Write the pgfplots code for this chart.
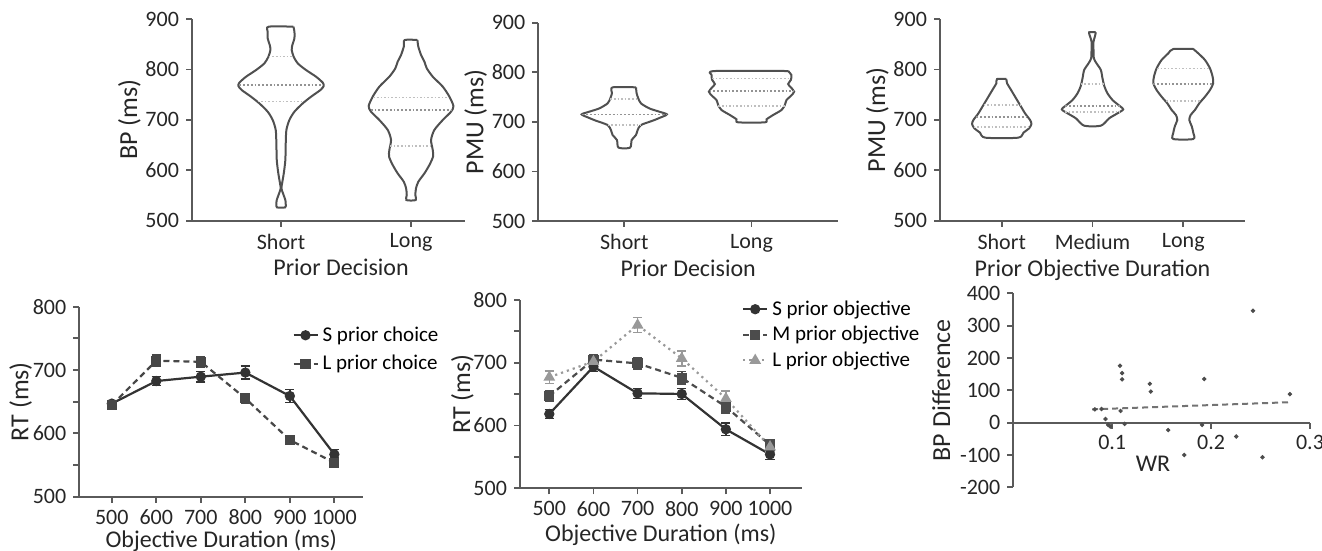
\documentclass[border=0pt]{standalone}
\usepackage{fontspec}
\setmainfont{Carlito}
\usepackage{pgfplots}
\pgfplotsset{compat=1.18}
\definecolor{axc}{HTML}{5A5A5A}
\definecolor{vio}{HTML}{505050}
\pgfplotsset{
 base/.style={scale only axis, axis lines*=left, axis line style={axc, line width=1.1pt},
   tick style={axc, line width=0.9pt}, major tick length=3pt, minor tick length=3pt, tick align=outside,
   tick label style={font=\fontsize{11}{13}\selectfont, text=black!85},
   xlabel style={font=\fontsize{12}{14}\selectfont, text=black!85, yshift=3pt},
   ylabel style={font=\fontsize{13}{15}\selectfont, text=black!85}, ylabel shift=-4.5pt,
   /pgf/number format/assume math mode=true, clip=false},
 violin/.style={draw=vio, line width=1pt, fill=white, smooth, tension=0.45, no marks},
 q/.style={gray!50, densely dotted, line width=0.8pt, no marks},
 qm/.style={gray!85, densely dotted, line width=0.9pt, no marks},
 leg/.style={legend style={draw=none, fill=none, font=\fontsize{10.5}{12}\selectfont, inner sep=0pt, anchor=north west},
   legend cell align=left,
   legend image code/.code={\draw[mark repeat=2, mark phase=2, ##1] plot coordinates {(0pt,0pt) (6pt,0pt) (12pt,0pt)};}},
 eb/.style={error bars/.cd, y dir=both, y explicit, error bar style={line width=0.8pt, solid}, error mark options={rotate=90, mark size=2.3pt, line width=0.8pt, solid}},
}
\begin{document}
\begin{tikzpicture}
\path[use as bounding box] (0pt,0pt) rectangle (661pt,275.5pt);

% ---------- Panel 1 ----------
\begin{axis}[base, at={(96pt,165.15pt)}, anchor=south west, width=136.5pt, height=100.85pt,
  xmin=0.315, xmax=2.415, ymin=500, ymax=900, xtick={1,2}, xticklabels={Short,Long},
  ytick={500,600,700,800,900}, xlabel={Prior Decision}, ylabel={BP (ms)},
  xlabel style={at={(ticklabel cs:0.546)}}]
\addplot[violin] coordinates {(1.095,884.8) (1.103,874.9) (1.103,861.7) (1.087,848.4) (1.082,838.5) (1.097,825.3) (1.128,812.1) (1.192,798.8) (1.269,785.6) (1.321,773.7) (1.328,767.1) (1.303,759.2) (1.231,745.9) (1.167,732.7) (1.103,716.2) (1.064,699.7) (1.041,679.8) (1.036,653.4) (1.033,620.3) (1.021,593.9) (1.008,574.0) (1.003,564.1) (1.015,554.2) (1.033,541.0) (1.036,533.0) (1.031,526.4)
 (0.969,526.4) (0.964,533.0) (0.967,541.0) (0.985,554.2) (0.997,564.1) (0.992,574.0) (0.979,593.9) (0.967,620.3) (0.964,653.4) (0.959,679.8) (0.936,699.7) (0.897,716.2) (0.833,732.7) (0.769,745.9) (0.697,759.2) (0.672,767.1) (0.679,773.7) (0.731,785.6) (0.808,798.8) (0.872,812.1) (0.903,825.3) (0.918,838.5) (0.913,848.4) (0.897,861.7) (0.897,874.9) (0.905,884.8) (1.095,884.8)};
\addplot[violin] coordinates {(2.049,858.3) (2.056,845.1) (2.077,828.6) (2.103,815.4) (2.121,802.1) (2.167,785.6) (2.244,765.8) (2.295,745.9) (2.326,727.4) (2.308,716.2) (2.244,699.7) (2.179,679.8) (2.154,660.0) (2.167,640.2) (2.169,626.9) (2.141,610.4) (2.103,593.9) (2.056,577.3) (2.038,564.1) (2.033,550.9) (2.036,540.9)
 (1.964,540.9) (1.967,550.9) (1.962,564.1) (1.944,577.3) (1.897,593.9) (1.859,610.4) (1.831,626.9) (1.833,640.2) (1.846,660.0) (1.821,679.8) (1.756,699.7) (1.692,716.2) (1.674,727.4) (1.705,745.9) (1.756,765.8) (1.833,785.6) (1.879,802.1) (1.897,815.4) (1.923,828.6) (1.944,845.1) (1.951,858.3) (2.049,858.3)};
\addplot[q] coordinates {(0.905,825.3) (1.095,825.3)};
\addplot[qm] coordinates {(0.68,769) (1.32,769)};
\addplot[q] coordinates {(0.82,736) (1.18,736)};
\addplot[q] coordinates {(1.71,744) (2.29,744)};
\addplot[qm] coordinates {(1.69,719.5) (2.31,719.5)};
\addplot[q] coordinates {(1.84,648) (2.16,648)};
\end{axis}

% ---------- Panel 2 ----------
\begin{axis}[base, at={(269.15pt,165pt)}, anchor=south west, width=149.85pt, height=99.15pt,
  xmin=0.324, xmax=2.68, ymin=500, ymax=900, xtick={1,2}, xticklabels={Short,Long},
  ytick={500,600,700,800,900}, xlabel={Prior Decision}, ylabel={PMU (ms)}]
\addplot[violin] coordinates {(1.092,769.6) (1.097,757.5) (1.110,747.4) (1.131,737.3) (1.196,727.2) (1.275,720.5) (1.335,715.1) (1.288,709.1) (1.223,702.3) (1.131,693.6) (1.105,683.5) (1.092,673.4) (1.058,663.4) (1.045,647.9)
 (0.955,647.9) (0.942,663.4) (0.908,673.4) (0.895,683.5) (0.869,693.6) (0.777,702.3) (0.712,709.1) (0.665,715.1) (0.725,720.5) (0.804,727.2) (0.869,737.3) (0.890,747.4) (0.903,757.5) (0.908,769.6) (1.092,769.6)};
\addplot[violin] coordinates {(2.288,802.5) (2.314,794.4) (2.309,784.4) (2.288,776.3) (2.309,769.6) (2.335,760.8) (2.309,752.1) (2.275,744.0) (2.262,733.9) (2.236,723.9) (2.170,713.8) (2.118,705.0) (2.105,699.0)
 (1.895,699.0) (1.882,705.0) (1.830,713.8) (1.764,723.9) (1.738,733.9) (1.725,744.0) (1.691,752.1) (1.665,760.8) (1.691,769.6) (1.712,776.3) (1.691,784.4) (1.686,794.4) (1.712,802.5) (2.288,802.5)};
\addplot[q] coordinates {(0.89,746) (1.11,746)};
\addplot[qm] coordinates {(0.67,715) (1.33,715)};
\addplot[q] coordinates {(0.87,693.6) (1.13,693.6)};
\addplot[q] coordinates {(1.69,787.7) (2.31,787.7)};
\addplot[qm] coordinates {(1.67,762) (2.33,762)};
\addplot[q] coordinates {(1.74,732) (2.26,732)};
\end{axis}

% ---------- Panel 3 ----------
\begin{axis}[base, at={(470pt,165.15pt)}, anchor=south west, width=152.5pt, height=100.85pt,
  xmin=0.32, xmax=3.68, ymin=500, ymax=900, xtick={1,2,3}, xticklabels={Short,Medium,Long},
  ytick={500,600,700,800,900}, xlabel={Prior Objective Duration}, ylabel={PMU (ms)}]
\addplot[violin] coordinates {(1.051,781.0) (1.059,772.4) (1.092,762.5) (1.147,745.9) (1.202,729.4) (1.257,712.9) (1.312,699.7) (1.327,691.7) (1.301,683.1) (1.239,674.5) (1.180,664.6)
 (0.820,664.6) (0.761,674.5) (0.699,683.1) (0.673,691.7) (0.688,699.7) (0.743,712.9) (0.798,729.4) (0.853,745.9) (0.908,762.5) (0.941,772.4) (0.949,781.0) (1.051,781.0)};
\addplot[violin] coordinates {(2.037,873.6) (2.026,865.0) (2.011,855.0) (2.011,838.5) (2.015,822.0) (2.044,812.1) (2.092,798.8) (2.110,782.3) (2.132,765.8) (2.165,752.6) (2.220,739.4) (2.286,729.4) (2.338,720.8) (2.275,712.9) (2.183,703.0) (2.092,688.4)
 (1.908,688.4) (1.817,703.0) (1.725,712.9) (1.662,720.8) (1.714,729.4) (1.780,739.4) (1.835,752.6) (1.868,765.8) (1.890,782.3) (1.908,798.8) (1.956,812.1) (1.985,822.0) (1.989,838.5) (1.989,855.0) (1.974,865.0) (1.963,873.6) (2.037,873.6)};
\addplot[violin] coordinates {(3.110,840.5) (3.165,831.9) (3.239,818.7) (3.294,802.1) (3.323,785.6) (3.330,772.4) (3.294,759.2) (3.239,745.9) (3.176,732.7) (3.128,719.5) (3.081,709.6) (3.066,699.7) (3.092,687.8) (3.110,674.5) (3.110,662.0)
 (2.890,662.0) (2.890,674.5) (2.908,687.8) (2.934,699.7) (2.919,709.6) (2.872,719.5) (2.824,732.7) (2.761,745.9) (2.706,759.2) (2.670,772.4) (2.677,785.6) (2.706,802.1) (2.761,818.7) (2.835,831.9) (2.890,840.5) (3.110,840.5)};
\addplot[q] coordinates {(0.80,729.4) (1.20,729.4)};
\addplot[qm] coordinates {(0.72,706) (1.28,706)};
\addplot[q] coordinates {(0.69,686.4) (1.31,686.4)};
\addplot[q] coordinates {(1.87,771) (2.13,771)};
\addplot[qm] coordinates {(1.70,727.5) (2.30,727.5)};
\addplot[q] coordinates {(1.70,716) (2.30,716)};
\addplot[q] coordinates {(2.71,802) (3.29,802)};
\addplot[qm] coordinates {(2.67,770.4) (3.33,770.4)};
\addplot[q] coordinates {(2.81,737.4) (3.19,737.4)};
\end{axis}

% ---------- Panel 4 ----------
\begin{axis}[base, leg, at={(39.65pt,27.15pt)}, anchor=south west, width=142pt, height=95pt,
  xmin=427, xmax=1065, ymin=500, ymax=800, xtick={500,600,700,800,900,1000},
  xticklabels={500,600,700,800,900,1000}, ytick={500,600,700,800}, minor ytick={550,650,750},
  xlabel={Objective Duration (ms)}, ylabel={RT (ms)}, ylabel shift=-6.5pt,
  xlabel style={yshift=1.5pt},
  legend style={at={(0.749,0.919)}, row sep=1.5pt}]
\addplot[black!80, line width=1.1pt, mark=*, mark size=2pt, eb] coordinates {
 (500,647) +- (0,5) (600,682.6) +- (0,7) (700,689.5) +- (0,8) (800,696) +- (0,10) (900,659) +- (0,10) (1000,566.8) +- (0,8)};
\addplot[black!72, line width=1.1pt, dash pattern=on 3pt off 2pt, mark=square*, mark size=2pt, mark options={solid}, eb] coordinates {
 (500,644.7) +- (0,5) (600,714.7) +- (0,9) (700,713) +- (0,8) (800,655.3) +- (0,7) (900,589.5) +- (0,7) (1000,553.7) +- (0,7)};
\legend{S prior choice, L prior choice}
\end{axis}

% ---------- Panel 5 ----------
\begin{axis}[base, leg, at={(260pt,31.35pt)}, anchor=south west, width=140.85pt, height=94.15pt,
  xmin=433.6, xmax=1071.8, ymin=500, ymax=800, xtick={500,600,700,800,900,1000},
  xticklabels={500,600,700,800,900,1000}, ytick={500,600,700,800}, minor ytick={550,650,750},
  xlabel={Objective Duration (ms)}, ylabel={RT (ms)}, ylabel shift=-7pt,
  legend style={at={(0.787,1.021)}, row sep=0pt}]
\addplot[black!80, line width=1.1pt, mark=*, mark size=2pt, eb] coordinates {
 (500,618.4) +- (0,7) (600,693.8) +- (0,8) (700,651.3) +- (0,8) (800,650.3) +- (0,9) (900,594) +- (0,10) (1000,554) +- (0,8)};
\addplot[black!70, line width=1.1pt, dash pattern=on 3pt off 2pt, mark=square*, mark size=2pt, mark options={solid}, eb] coordinates {
 (500,647) +- (0,8) (600,705) +- (0,8) (700,699) +- (0,9) (800,676) +- (0,10) (900,630) +- (0,10) (1000,569) +- (0,8)};
\addplot[black!40, line width=1.1pt, dotted, mark=triangle*, mark size=2.3pt, mark options={solid}, eb] coordinates {
 (500,677) +- (0,10) (600,702) +- (0,8) (700,760) +- (0,12) (800,707) +- (0,12) (900,643) +- (0,12) (1000,566) +- (0,8)};
\legend{S prior objective, M prior objective, L prior objective}
\end{axis}

% ---------- Panel 6 ----------
\begin{axis}[base, axis x line*=middle, axis y line*=left, at={(506.65pt,31.85pt)}, anchor=south west,
  width=148.35pt, height=97pt, xmin=0, xmax=0.3, ymin=-200, ymax=400,
  xtick={0.1,0.2,0.3}, xticklabels={0.1,0.2,0.3},
  ytick={-200,-100,0,100,200,300,400}, yticklabels={-200,-100,0,100,200,300,400},
  xlabel={WR}, ylabel={BP Difference}, ylabel shift=-2pt,
  xlabel style={at={(axis description cs:0.471,0.09)}, anchor=center}]
\addplot[black!55, line width=1pt, dash pattern=on 3pt off 2pt] coordinates {(0.0797,41) (0.278,63)};
\addplot[only marks, mark=*, mark size=0.9pt, black!70] coordinates {
 (0.2424,346) (0.1078,176) (0.110,153) (0.110,134) (0.138,120) (0.139,96) (0.193,135) (0.2797,88)
 (0.1085,36) (0.0932,11) (0.0959,-7) (0.098,-12) (0.1125,-4) (0.1908,-7) (0.1566,-23) (0.2254,-43)
 (0.1729,-100) (0.2519,-107) (0.0824,41) (0.0892,42)};
\end{axis}
\end{tikzpicture}
\end{document}
